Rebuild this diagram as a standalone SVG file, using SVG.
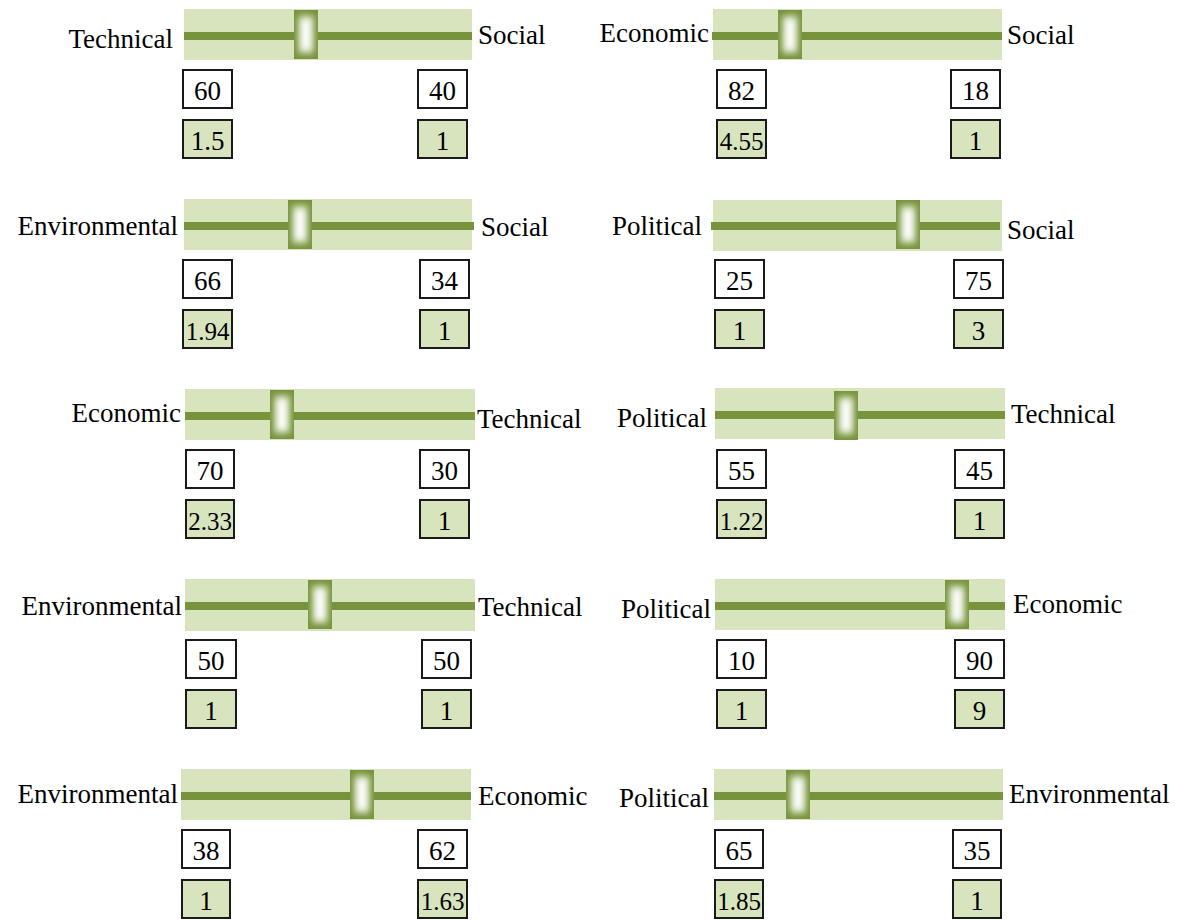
<svg xmlns="http://www.w3.org/2000/svg" xmlns:xlink="http://www.w3.org/1999/xlink" width="1186" height="920" viewBox="0 0 1186 920">
<defs>
<filter id="soft" x="-60%" y="-60%" width="220%" height="220%">
<feGaussianBlur stdDeviation="3.2"/>
</filter>
<clipPath id="tc"><rect width="24" height="49"/></clipPath>
<g id="thumb">
<g clip-path="url(#tc)">
<rect width="24" height="49" fill="#77933C"/>
<rect x="4" y="5" width="16" height="39" fill="#b9ca97" filter="url(#soft)"/>
<rect x="7" y="9" width="10" height="31" fill="#ffffff" filter="url(#soft)"/>
</g>
</g>
<style>
.bar{fill:#D7E4BD}
.track{fill:#77933C}
.lbl{font-family:"Liberation Serif","Times New Roman",serif;font-size:27px;fill:#000}
.n{font-family:"Liberation Serif","Times New Roman",serif;font-size:27px;fill:#000;text-anchor:middle}
.s{font-size:25px}
.bw{fill:#fff;stroke:#1a1a1a;stroke-width:2}
.bg{fill:#D7E4BD;stroke:#1a1a1a;stroke-width:2}
.e{text-anchor:end}
</style>
</defs>
<rect width="1186" height="920" fill="#fff"/>

<g id="p1">
<rect class="bar" x="184" y="9" width="288" height="51"/>
<rect class="track" x="184" y="32" width="288" height="8"/>
<use xlink:href="#thumb" href="#thumb" x="294" y="10"/>
<text class="lbl e" x="173" y="48">Technical</text>
<text class="lbl" x="478" y="44">Social</text>
<rect class="bw" x="183" y="70" width="49" height="38"/><text class="n" x="207.5" y="100">60</text>
<rect class="bg" x="183" y="120" width="49" height="38"/><text class="n" x="207.5" y="150">1.5</text>
<rect class="bw" x="418" y="70" width="49" height="38"/><text class="n" x="442.5" y="100">40</text>
<rect class="bg" x="418" y="120" width="49" height="38"/><text class="n" x="442.5" y="150">1</text>
</g>

<g id="p2">
<rect class="bar" x="713" y="9" width="289" height="51"/>
<rect class="track" x="712" y="32" width="290" height="8"/>
<use xlink:href="#thumb" href="#thumb" x="778" y="10"/>
<text class="lbl e" x="709" y="42">Economic</text>
<text class="lbl" x="1007" y="44">Social</text>
<rect class="bw" x="717" y="70" width="49" height="38"/><text class="n" x="741.5" y="100">82</text>
<rect class="bg" x="717" y="120" width="49" height="38"/><text class="n s" x="741.5" y="150">4.55</text>
<rect class="bw" x="951" y="70" width="49" height="38"/><text class="n" x="975.5" y="100">18</text>
<rect class="bg" x="951" y="120" width="49" height="38"/><text class="n" x="975.5" y="150">1</text>
</g>

<g id="p3">
<rect class="bar" x="184" y="199" width="288" height="51"/>
<rect class="track" x="184" y="222" width="290" height="8"/>
<use xlink:href="#thumb" href="#thumb" x="288" y="200"/>
<text class="lbl e" x="178" y="235">Environmental</text>
<text class="lbl" x="481" y="236">Social</text>
<rect class="bw" x="183" y="260" width="49" height="38"/><text class="n" x="207.5" y="290">66</text>
<rect class="bg" x="183" y="310" width="49" height="38"/><text class="n s" x="207.5" y="340">1.94</text>
<rect class="bw" x="420" y="260" width="49" height="38"/><text class="n" x="444.5" y="290">34</text>
<rect class="bg" x="420" y="310" width="49" height="38"/><text class="n" x="444.5" y="340">1</text>
</g>

<g id="p4">
<rect class="bar" x="713" y="200" width="289" height="51"/>
<rect class="track" x="711" y="222" width="289" height="8"/>
<use xlink:href="#thumb" href="#thumb" x="896" y="200"/>
<text class="lbl e" x="702" y="235">Political</text>
<text class="lbl" x="1007" y="239">Social</text>
<rect class="bw" x="715" y="260" width="49" height="38"/><text class="n" x="739.5" y="290">25</text>
<rect class="bg" x="715" y="310" width="49" height="38"/><text class="n" x="739.5" y="340">1</text>
<rect class="bw" x="954" y="260" width="49" height="38"/><text class="n" x="978.5" y="290">75</text>
<rect class="bg" x="954" y="310" width="49" height="38"/><text class="n" x="978.5" y="340">3</text>
</g>

<g id="p5">
<rect class="bar" x="185" y="389" width="290" height="51"/>
<rect class="track" x="185" y="412" width="290" height="8"/>
<use xlink:href="#thumb" href="#thumb" x="270" y="390"/>
<text class="lbl e" x="181" y="422">Economic</text>
<text class="lbl" x="477" y="428">Technical</text>
<rect class="bw" x="186" y="450" width="48" height="38"/><text class="n" x="210" y="480">70</text>
<rect class="bg" x="186" y="500" width="48" height="38"/><text class="n s" x="210" y="530">2.33</text>
<rect class="bw" x="420" y="450" width="49" height="38"/><text class="n" x="444.5" y="480">30</text>
<rect class="bg" x="420" y="500" width="49" height="38"/><text class="n" x="444.5" y="530">1</text>
</g>

<g id="p6">
<rect class="bar" x="715" y="388" width="290" height="51"/>
<rect class="track" x="715" y="411" width="290" height="8"/>
<use xlink:href="#thumb" href="#thumb" x="834" y="391"/>
<text class="lbl e" x="707" y="427">Political</text>
<text class="lbl" x="1011" y="423">Technical</text>
<rect class="bw" x="717" y="450" width="49" height="38"/><text class="n" x="741.5" y="480">55</text>
<rect class="bg" x="717" y="500" width="49" height="38"/><text class="n s" x="741.5" y="530">1.22</text>
<rect class="bw" x="955" y="450" width="49" height="38"/><text class="n" x="979.5" y="480">45</text>
<rect class="bg" x="955" y="500" width="49" height="38"/><text class="n" x="979.5" y="530">1</text>
</g>

<g id="p7">
<rect class="bar" x="185" y="579" width="290" height="52"/>
<rect class="track" x="185" y="602" width="290" height="8"/>
<use xlink:href="#thumb" href="#thumb" x="308" y="580"/>
<text class="lbl e" x="182" y="615">Environmental</text>
<text class="lbl" x="478" y="616">Technical</text>
<rect class="bw" x="186" y="640" width="50" height="38"/><text class="n" x="211" y="670">50</text>
<rect class="bg" x="186" y="690" width="50" height="38"/><text class="n" x="211" y="720">1</text>
<rect class="bw" x="422" y="640" width="49" height="38"/><text class="n" x="446.5" y="670">50</text>
<rect class="bg" x="422" y="690" width="49" height="38"/><text class="n" x="446.5" y="720">1</text>
</g>

<g id="p8">
<rect class="bar" x="715" y="579" width="290" height="51"/>
<rect class="track" x="715" y="602" width="290" height="8"/>
<use xlink:href="#thumb" href="#thumb" x="945" y="580"/>
<text class="lbl e" x="711" y="618">Political</text>
<text class="lbl" x="1013" y="613">Economic</text>
<rect class="bw" x="717" y="640" width="49" height="38"/><text class="n" x="741.5" y="670">10</text>
<rect class="bg" x="717" y="690" width="49" height="38"/><text class="n" x="741.5" y="720">1</text>
<rect class="bw" x="955" y="640" width="49" height="38"/><text class="n" x="979.5" y="670">90</text>
<rect class="bg" x="955" y="690" width="49" height="38"/><text class="n" x="979.5" y="720">9</text>
</g>

<g id="p9">
<rect class="bar" x="181" y="769" width="290" height="51"/>
<rect class="track" x="181" y="792" width="290" height="8"/>
<use xlink:href="#thumb" href="#thumb" x="350" y="770"/>
<text class="lbl e" x="178" y="803">Environmental</text>
<text class="lbl" x="478" y="805">Economic</text>
<rect class="bw" x="182" y="830" width="48" height="38"/><text class="n" x="206" y="860">38</text>
<rect class="bg" x="182" y="880" width="48" height="38"/><text class="n" x="206" y="910">1</text>
<rect class="bw" x="418" y="830" width="49" height="38"/><text class="n" x="442.5" y="860">62</text>
<rect class="bg" x="418" y="880" width="49" height="38"/><text class="n s" x="442.5" y="910">1.63</text>
</g>

<g id="p10">
<rect class="bar" x="714" y="769" width="289" height="51"/>
<rect class="track" x="714" y="792" width="289" height="8"/>
<use xlink:href="#thumb" href="#thumb" x="786" y="770"/>
<text class="lbl e" x="709" y="807">Political</text>
<text class="lbl" x="1009" y="803">Environmental</text>
<rect class="bw" x="715" y="830" width="48" height="38"/><text class="n" x="739" y="860">65</text>
<rect class="bg" x="715" y="880" width="48" height="38"/><text class="n s" x="739" y="910">1.85</text>
<rect class="bw" x="953" y="830" width="48" height="38"/><text class="n" x="977" y="860">35</text>
<rect class="bg" x="953" y="880" width="48" height="38"/><text class="n" x="977" y="910">1</text>
</g>
</svg>
